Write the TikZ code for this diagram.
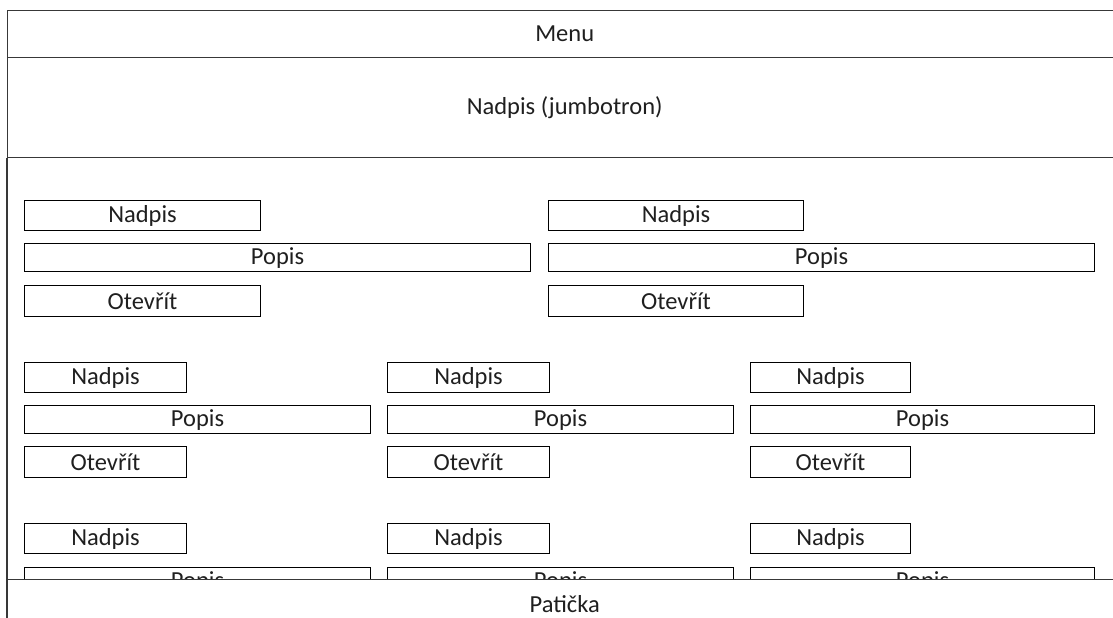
\documentclass[tikz,border=0pt]{standalone}
\usepackage{fontspec}
\setmainfont{Carlito}
\begin{document}
\begin{tikzpicture}[x=1pt,y=-1pt,
  every node/.style={font=\fontsize{24.5}{28}\selectfont, text=black!88, inner sep=0pt},
  band/.style={draw=black!78, line width=1.4pt, fill=white, anchor=north west},
  cell/.style={draw=black, line width=1.1pt, anchor=north west},
  title/.style={cell, minimum width=#1, minimum height=30pt},
  desc/.style={cell, minimum width=#1, minimum height=28pt},
  open/.style={cell, minimum width=#1, minimum height=31pt}]
\useasboundingbox (0,0) rectangle (1113,618);

% page frame: menu bar and jumbotron
\node[band, minimum width=1114pt, minimum height=47pt] (menu) at (7,10) {Menu};
\node[band, minimum width=1114pt, minimum height=100pt] (jumbo) at (7,57) {Nadpis (jumbotron)};
\draw[draw=black!78, line width=1.4pt] (jumbo.south west) -- (7,640);

% two-column row
\node[title=236pt] (a1) at (24,200) {Nadpis};
\node[desc=506pt]  (a2) at (24,243) {Popis};
\node[open=236pt]  (a3) at (24,285) {Otevřít};
\node[title=255pt] (b1) at (548,200) {Nadpis};
\node[desc=546pt]  (b2) at (548,243) {Popis};
\node[open=255pt]  (b3) at (548,285) {Otevřít};

% three-column row
\node[title=162pt] (c1) at (24,362) {Nadpis};
\node[desc=346pt]  (c2) at (24,405) {Popis};
\node[open=162pt]  (c3) at (24,446) {Otevřít};
\node[title=162pt] (d1) at (387,362) {Nadpis};
\node[desc=346pt]  (d2) at (387,405) {Popis};
\node[open=162pt]  (d3) at (387,446) {Otevřít};
\node[title=160pt] (e1) at (750,362) {Nadpis};
\node[desc=344pt]  (e2) at (750,405) {Popis};
\node[open=160pt]  (e3) at (750,446) {Otevřít};

% three-column row running under the footer
\node[title=162pt] (f1) at (24,523) {Nadpis};
\node[desc=346pt]  (f2) at (24,567) {Popis};
\node[title=162pt] (g1) at (387,523) {Nadpis};
\node[desc=346pt]  (g2) at (387,567) {Popis};
\node[title=160pt] (h1) at (750,523) {Nadpis};
\node[desc=344pt]  (h2) at (750,567) {Popis};

% footer
\node[band, minimum width=1114pt, minimum height=48pt] (foot) at (7,579) {Patička};
\end{tikzpicture}
\end{document}
